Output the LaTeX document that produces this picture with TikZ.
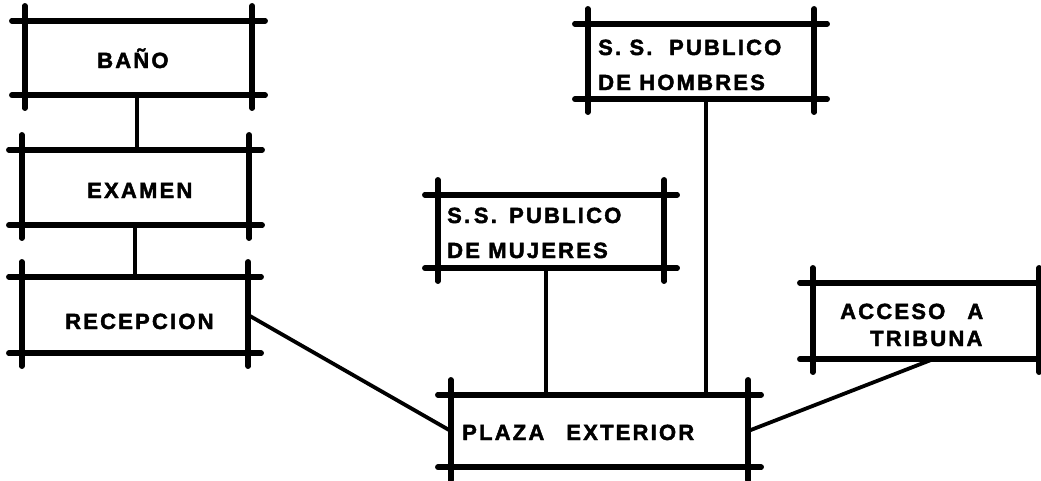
\documentclass[tikz,border=0pt]{standalone}
\usepackage{fontspec}
\newfontfamily\lblfont[LetterSpace=10,FakeBold=2]{Liberation Sans Bold}
\begin{document}
\begin{tikzpicture}[x=1pt,y=-1pt,
  bx/.style={draw=none,inner sep=0pt,rectangle},
  boxline/.style={line width=5.5pt,line cap=round},
  conn/.style={line width=3.8pt},
  lbl/.style={inner sep=0pt,anchor=base west,font=\lblfont\fontsize{22}{22}\selectfont}]
\useasboundingbox (0,0) rectangle (1041,480);
\newcommand\xbox[1]{%
  \draw[boxline] ([xshift=-13pt]#1.north west) -- ([xshift=13pt]#1.north east);
  \draw[boxline] ([xshift=-13pt]#1.south west) -- ([xshift=13pt]#1.south east);
  \draw[boxline] ([yshift=15pt]#1.north west) -- ([yshift=-13pt]#1.south west);
  \draw[boxline] ([yshift=15pt]#1.north east) -- ([yshift=-13pt]#1.south east);}
% boxes
\node[bx,minimum width=227pt,minimum height=74pt] (bano) at (138.5,58) {};
\node[bx,minimum width=227pt,minimum height=75pt] (examen) at (135.5,187.5) {};
\node[bx,minimum width=226pt,minimum height=76pt] (recep) at (135,315) {};
\node[bx,minimum width=226pt,minimum height=75pt] (hombres) at (701,61.5) {};
\node[bx,minimum width=226pt,minimum height=73pt] (mujeres) at (551,231.5) {};
\node[bx,minimum width=297pt,minimum height=72pt] (plaza) at (599.5,431) {};
\node[bx,minimum width=226pt,minimum height=76pt] (acceso) at (926,321) {};
\xbox{bano}\xbox{examen}\xbox{recep}\xbox{hombres}\xbox{mujeres}\xbox{plaza}\xbox{acceso}
% labels
\node[lbl] (tbano) at (97,68) {BAÑO};
\node[lbl] (texamen) at (87,198) {EXAMEN};
\node[lbl] (trecep) at (65,329) {RECEPCION};
\node[lbl] (th1) at (598,55) {S.\ S.\ \ PUBLICO};
\node[lbl] (th2) at (598,90) {DE HOMBRES};
\node[lbl] (tm1) at (447,223) {S.\,S.\ \hspace{4pt}PUBLICO};
\node[lbl] (tm2) at (447,258) {DE MUJERES};
\node[lbl] (ta1) at (840,319) {ACCESO\quad A};
\node[lbl] (ta2) at (870,346) {TRIBUNA};
\node[lbl] (tp) at (462,440) {PLAZA\quad EXTERIOR};
% connectors
\draw[conn] ([xshift=-1.5pt]bano.south) -- ([xshift=-1.5pt]bano.south |- examen.north);
\draw[conn] ([xshift=-0.5pt]examen.south) -- ([xshift=-0.5pt]examen.south |- recep.north);
\draw[conn] (recep.east) -- (plaza.west);
\draw[conn] ([xshift=-5pt]mujeres.south) -- ([xshift=-5pt]mujeres.south |- plaza.north);
\draw[conn] ([xshift=5pt]hombres.south) -- ([xshift=5pt]hombres.south |- plaza.north);
\draw[conn] ([xshift=7pt]acceso.south) -- (plaza.east);
\end{tikzpicture}
\end{document}
